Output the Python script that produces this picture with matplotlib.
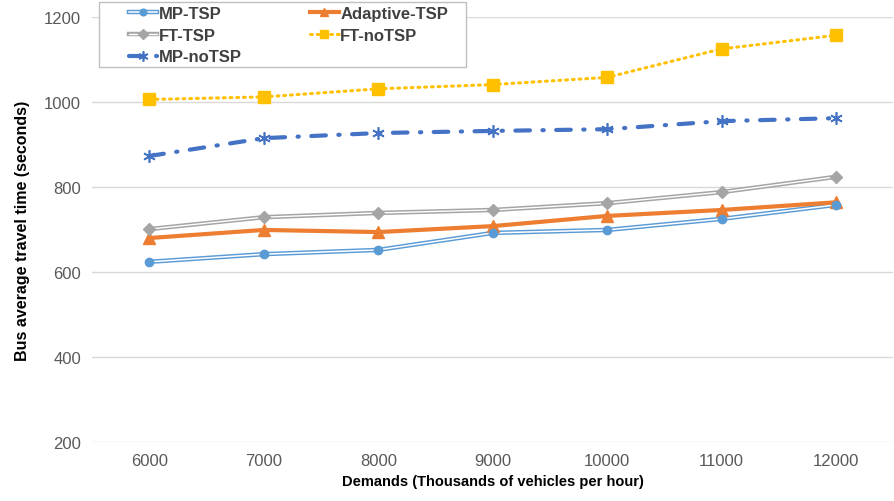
import matplotlib
matplotlib.use("Agg")
import matplotlib.pyplot as plt
from matplotlib.legend_handler import HandlerTuple
from matplotlib.patches import Rectangle

plt.rcParams['font.family'] = ['Liberation Sans', 'DejaVu Sans']

demands = ["6000", "7000", "8000", "9000", "10000", "11000", "12000"]
mp_tsp = [624, 642, 652, 692, 699, 725, 758]
adaptive_tsp = [680, 699, 694, 708, 732, 746, 764]
ft_tsp = [701, 729, 739, 746, 762, 788, 824]
ft_notsp = [1006, 1012, 1031, 1041, 1058, 1125, 1157]
mp_notsp = [873, 915, 927, 932, 936, 955, 962]

x = list(range(len(demands)))

W, H = 895, 502
fig = plt.figure(figsize=(W / 100, H / 100), dpi=100)
ax = fig.add_axes([0.103, 0.1175, 0.895, 0.8466])

c_mp = '#5B9BD5'
c_ad = '#ED7D31'
c_ft = '#A5A5A5'
c_fn = '#FFC000'
c_mn = '#4472C4'

# MP-TSP double line
h1a, = ax.plot(x, mp_tsp, color=c_mp, lw=3.2, zorder=3)
h1b, = ax.plot(x, mp_tsp, color='white', lw=1.1, zorder=4)
h1c, = ax.plot(x, mp_tsp, color=c_mp, lw=0, marker='o', ms=6, zorder=5)
# FT-TSP double line
h3a, = ax.plot(x, ft_tsp, color=c_ft, lw=3.2, zorder=3)
h3b, = ax.plot(x, ft_tsp, color='white', lw=1.0, zorder=4)
h3c, = ax.plot(x, ft_tsp, color=c_ft, lw=0, marker='D', ms=6, zorder=5)
# Adaptive
h2, = ax.plot(x, adaptive_tsp, color=c_ad, lw=3, marker='^', ms=8, zorder=4)
# FT-noTSP
h4, = ax.plot(x, ft_notsp, color=c_fn, lw=2.2, linestyle=(0, (0.6, 1.6)),
              dash_capstyle='round', marker='s', ms=8, zorder=4)
# MP-noTSP
h5, = ax.plot(x, mp_notsp, color=c_mn, lw=3, linestyle=(0, (3.5, 3, 0.3, 3)),
              dash_capstyle='round', marker=(6, 2, 0), ms=9, mew=1.2, zorder=4)

ax.set_xlim(-0.5, len(demands) - 0.5)
ax.set_ylim(200, 1200)
ax.set_yticks([200, 400, 600, 800, 1000, 1200])
ax.set_xticks(x)
ax.set_xticklabels(demands)
ax.tick_params(axis='both', length=0, labelsize=12, colors='#595959', pad=8)
ax.grid(axis='y', color='#D9D9D9', lw=1)
ax.set_axisbelow(True)
for s in ax.spines.values():
    s.set_visible(False)

ax.set_xlabel('Demands (Thousands of vehicles per hour)', fontsize=10.5,
              fontweight='bold', labelpad=4)
ax.set_ylabel('Bus average travel time (seconds)', fontsize=11.5,
              fontweight='bold', labelpad=10)

# legend frame
fig.patches.append(Rectangle((99 / W, 1 - 68 / H), 367 / W, 65 / H,
                             transform=fig.transFigure, facecolor='white',
                             edgecolor='#BFBFBF', lw=1, zorder=10))

handles = [(h1a, h1b, h1c), (h3a, h3b, h3c), h5, h2, h4]
labels = ['MP-TSP', 'FT-TSP', 'MP-noTSP', 'Adaptive-TSP', 'FT-noTSP']
leg = fig.legend(handles, labels, ncol=2, loc='upper left',
                 bbox_to_anchor=(129 / W, 1 - 7 / H), borderaxespad=0,
                 handler_map={tuple: HandlerTuple(ndivide=1)},
                 frameon=False, markerscale=0.8,
                 handlelength=1.7, handletextpad=0.1,
                 columnspacing=4.1, labelspacing=0.4, borderpad=0,
                 prop={'weight': 'bold', 'size': 12})
leg.set_zorder(11)
for t in leg.get_texts():
    t.set_color('#404040')

fig.savefig('out.png', dpi=100)
